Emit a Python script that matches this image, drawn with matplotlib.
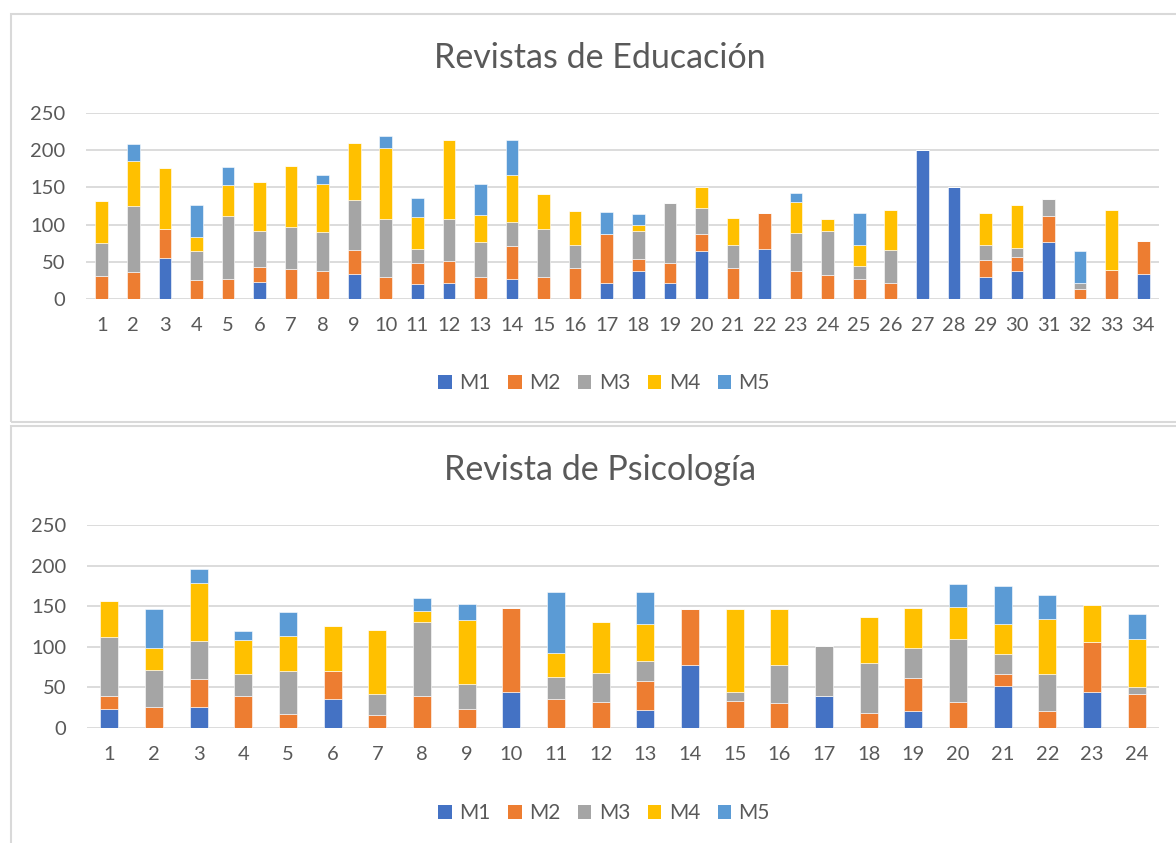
import numpy as np
import matplotlib
matplotlib.use("Agg")
import matplotlib.pyplot as plt
from matplotlib.patches import Rectangle, Patch

plt.rcParams["font.family"] = ["Lato", "DejaVu Sans"]

W, H = 1176, 843
SERIES = ["M1", "M2", "M3", "M4", "M5"]
COLORS = ["#4472C4", "#ED7D31", "#A5A5A5", "#FFC000", "#5B9BD5"]
TEXT = "#595959"
GRID = "#D9D9D9"

# ── Revistas de Educación (34 journals) ─────────────────────────────
edu_labels = [str(i) for i in range(1, 35)]
edu_m1 = [0, 0, 55, 0, 0, 23, 0, 0, 34, 0, 20, 21, 0, 27, 0, 0, 22, 38, 21, 64,
          0, 67, 0, 0, 0, 0, 200, 151, 30, 38, 76, 0, 0, 33]
edu_m2 = [31, 36, 39, 25, 27, 20, 40, 37, 32, 29, 29, 30, 30, 44, 30, 41, 66, 16, 28, 24,
          41, 49, 38, 32, 27, 21, 0, 0, 23, 18, 35, 14, 39, 45]
edu_m3 = [44, 89, 0, 39, 85, 48, 57, 53, 67, 78, 18, 56, 46, 33, 64, 31, 0, 37, 80, 34,
          31, 0, 51, 59, 18, 45, 0, 0, 20, 13, 23, 7, 0, 0]
edu_m4 = [57, 60, 82, 19, 41, 66, 82, 65, 77, 96, 43, 107, 37, 63, 47, 46, 0, 9, 0, 28,
          37, 0, 42, 17, 28, 54, 0, 0, 42, 58, 0, 0, 81, 0]
edu_m5 = [0, 23, 0, 43, 24, 0, 0, 12, 0, 16, 26, 0, 41, 47, 0, 0, 29, 14, 0, 0,
          0, 0, 11, 0, 43, 0, 0, 0, 0, 0, 0, 43, 0, 0]

# ── Revista de Psicología (24 journals) ─────────────────────────────
psi_labels = [str(i) for i in range(1, 25)]
psi_m1 = [23, 0, 26, 0, 0, 36, 0, 0, 0, 44, 0, 0, 22, 78, 0, 0, 40, 0, 21, 0, 52, 0, 44, 0]
psi_m2 = [17, 26, 34, 40, 17, 34, 16, 40, 23, 104, 36, 32, 36, 68, 33, 31, 0, 18, 40, 32,
          15, 21, 62, 42]
psi_m3 = [72, 46, 47, 27, 53, 0, 26, 90, 31, 0, 27, 36, 25, 0, 11, 46, 61, 62, 37, 77,
          24, 46, 0, 9]
psi_m4 = [45, 27, 71, 41, 43, 56, 79, 14, 79, 0, 29, 62, 45, 0, 103, 70, 0, 57, 50, 40,
          37, 67, 46, 58]
psi_m5 = [0, 47, 18, 12, 30, 0, 0, 16, 20, 0, 75, 0, 40, 0, 0, 0, 0, 0, 0, 28, 47, 30, 0, 31]


def px_axes(fig, left, top, right, bottom):
    return fig.add_axes([left / W, 1 - bottom / H, (right - left) / W, (bottom - top) / H])


def stacked(ax, labels, series):
    x = np.arange(len(labels))
    base = np.zeros(len(labels))
    for vals, color in zip(series, COLORS):
        vals = np.asarray(vals, dtype=float)
        ax.bar(x, vals, bottom=base, width=0.4, color=color,
               edgecolor="white", linewidth=0.4, zorder=3)
        base += vals
    ax.set_xlim(-0.5, len(labels) - 0.5)
    ax.set_ylim(0, 250)
    ax.set_yticks(np.arange(0, 251, 50))
    ax.set_xticks(x)
    ax.set_xticklabels(labels)
    ax.yaxis.grid(True, color=GRID, linewidth=1.3, zorder=0)
    for s in ax.spines.values():
        s.set_visible(False)
    ax.tick_params(axis="y", length=0, pad=15, labelsize=14.5, labelcolor=TEXT)
    ax.tick_params(axis="x", length=0, pad=13, labelsize=14.5, labelcolor=TEXT)


fig = plt.figure(figsize=(W / 100, H / 100), dpi=100)

# panel borders
for (x0, y0, x1, y1) in [(11, 14, 1190, 422), (11, 426, 1190, 860)]:
    fig.patches.append(Rectangle((x0 / W, 1 - y1 / H), (x1 - x0) / W, (y1 - y0) / H,
                                 transform=fig.transFigure, fill=False,
                                 edgecolor="#D9D9D9", linewidth=1.5))

ax1 = px_axes(fig, 86, 113, 1159, 299)
stacked(ax1, edu_labels, [edu_m1, edu_m2, edu_m3, edu_m4, edu_m5])
fig.text(600 / W, 1 - 58 / H, "Revistas de Educación", ha="center", va="center",
         fontsize=24.5, color=TEXT)

ax2 = px_axes(fig, 87, 525, 1159, 728)
stacked(ax2, psi_labels, [psi_m1, psi_m2, psi_m3, psi_m4, psi_m5])
fig.text(600 / W, 1 - 470 / H, "Revista de Psicología", ha="center", va="center",
         fontsize=24.5, color=TEXT)

handles = [Patch(facecolor=c, label=s) for s, c in zip(SERIES, COLORS)]
for ycen in (383, 813):
    fig.legend(handles=handles, loc="center", bbox_to_anchor=(604 / W, 1 - ycen / H),
               ncol=5, frameon=False, fontsize=15, labelcolor=TEXT,
               handlelength=0.65, handleheight=0.65, handletextpad=0.35,
               columnspacing=0.85)

fig.savefig("out.png", dpi=100)
